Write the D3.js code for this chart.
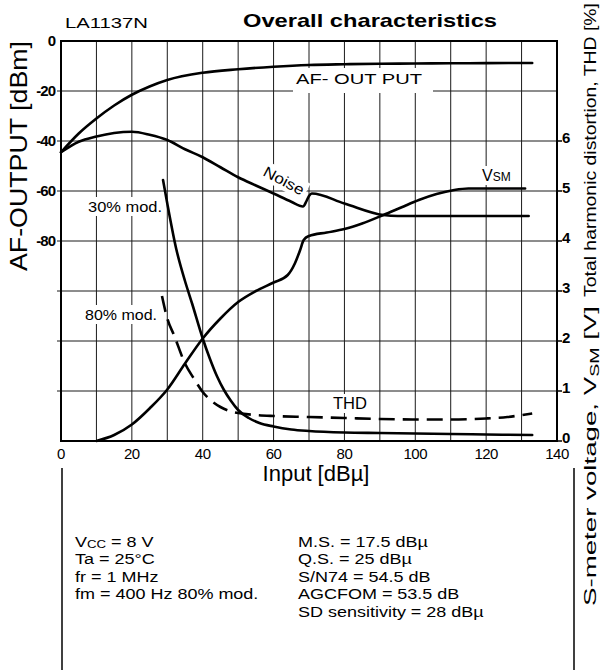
<!DOCTYPE html>
<html lang="en">
	<head>
		<meta charset="utf-8">
		<title>LA1137N Overall characteristics</title>
		<style type="text/css">
			body {
				margin: 0;
				background-color: white;
				font-family: "Liberation Sans", Arial, Helvetica, sans-serif;
			}
			svg {
				display: block;
				background-color: white;
			}
			.grid line {
				stroke: #1a1a1a;
				stroke-width: 1px;
			}
			path.curve {
				fill: none;
				stroke: black;
				stroke-width: 2.6px;
				stroke-linejoin: round;
				stroke-linecap: round;
			}
			path.dashed {
				stroke-dasharray: 16 8;
				stroke-linecap: butt;
			}
			.tick-l, .tick-r {
				font-weight: bold;
				font-size: 15px;
			}
			.tick-x {
				font-size: 15px;
			}
			.note {
				font-size: 15px;
			}
		</style>
	</head>
	<body>
		<script type="text/javascript" src="https://cdnjs.cloudflare.com/ajax/libs/d3/7.8.5/d3.min.js"></script>
		<script type="text/javascript">

			// input [dBu] ticks
			var xTicks = [0, 20, 40, 60, 80, 100, 120, 140];
			var leftTicks = [0, -20, -40, -60, -80];
			var rightTicks = [0, 1, 2, 3, 4, 5, 6];

			// AF-OUTPUT [dBm]
			var afX = [0, 5, 10, 15, 20, 25, 30, 40, 50, 60, 70, 80, 90, 100, 110, 120, 133];
			var afY = [-44.5, -37, -31, -25.8, -21.5, -18.2, -15.6, -12.7, -11.3, -10.3, -9.6, -9.3, -9.1, -9.0, -8.9, -8.85, -8.8];

			// Noise [dBm]
			var noiseX = [0, 5, 10, 15, 20, 25, 30, 35, 40, 45, 50, 55, 60, 65, 68.3, 69.3, 70, 70.8, 80, 91, 95, 110, 132];
			var noiseY = [-44.5, -40.3, -38.2, -36.8, -36.3, -37.5, -39.6, -43.3, -46.5, -50.5, -54.5, -57.8, -61, -64.3, -66.2, -64, -62, -61, -65, -69.6, -70, -70, -70];

			// S-meter voltage VSM [V]
			var vsmX = [10, 15, 20, 25, 30, 35, 40, 45, 50, 55, 60, 64, 66, 67.5, 68.5, 70, 75, 80, 85, 91, 96, 101, 106, 111, 115, 131];
			var vsmY = [0, 0.12, 0.33, 0.65, 1.03, 1.55, 2.05, 2.45, 2.78, 3.0, 3.17, 3.32, 3.55, 3.82, 4.02, 4.1, 4.17, 4.24, 4.35, 4.52, 4.67, 4.82, 4.94, 5.02, 5.05, 5.05];

			// THD [%], 30% mod. (solid)
			var thd30X = [28.8, 30, 32.5, 35, 37, 40, 42, 44, 46, 48, 50, 53, 56, 60, 65, 70, 80, 90, 100, 110, 120, 133];
			var thd30Y = [5.22, 4.75, 3.85, 3.2, 2.75, 2.05, 1.65, 1.3, 1.02, 0.8, 0.62, 0.46, 0.36, 0.29, 0.23, 0.2, 0.17, 0.16, 0.15, 0.14, 0.13, 0.12];

			// THD [%], 80% mod. (dashed)
			var thd80X = [28.5, 30, 32, 35, 37.5, 40, 42.5, 45, 47.5, 50, 55, 60, 70, 80, 90, 100, 110, 120, 126, 133];
			var thd80Y = [2.9, 2.45, 2.1, 1.55, 1.25, 0.98, 0.8, 0.68, 0.6, 0.56, 0.52, 0.5, 0.48, 0.46, 0.44, 0.43, 0.43, 0.45, 0.48, 0.55];

			var notesLeft = ["Ta = 25°C", "fr = 1 MHz", "fm = 400 Hz 80% mod."];
			var notesRight = ["M.S. = 17.5 dBµ", "Q.S. = 25 dBµ", "S/N74 = 54.5 dB", "AGCFOM = 53.5 dB", "SD sensitivity = 28 dBµ"];

			var fullwidth = 601;
			var fullheight = 670;
			var box = { left: 61, right: 557, top: 41, bottom: 441 };

			var xScale = d3.scaleLinear()
				.domain([0, 140])
				.range([box.left, box.right]);

			var yLeft = d3.scaleLinear()
				.domain([-160, 0])
				.range([box.bottom, box.top]);

			var yRight = d3.scaleLinear()
				.domain([0, 8])
				.range([box.bottom, box.top]);

			var svg = d3.select("body")
				.append("svg")
				.attr("width", fullwidth)
				.attr("height", fullheight);

			// grid
			var grid = svg.append("g").attr("class", "grid");

			grid.selectAll("line.v")
				.data(d3.range(10, 140, 10))
				.enter()
				.append("line")
				.attr("class", "v")
				.attr("x1", function(d) { return xScale(d); })
				.attr("x2", function(d) { return xScale(d); })
				.attr("y1", box.top)
				.attr("y2", box.bottom);

			grid.selectAll("line.h")
				.data(d3.range(-140, 0, 20))
				.enter()
				.append("line")
				.attr("class", "h")
				.attr("x1", box.left - 4)
				.attr("x2", box.right)
				.attr("y1", function(d) { return yLeft(d); })
				.attr("y2", function(d) { return yLeft(d); });

			// labels with white background over the grid
			function label(x, y, angle, size, len, parts) {
				var g = svg.append("g")
					.attr("transform", "translate(" + x + "," + y + ") rotate(" + angle + ")");
				var bg = g.append("rect").attr("fill", "white");
				var t = g.append("text")
					.style("font-size", size + "px");
				parts.forEach(function(p) {
					t.append("tspan")
						.text(p.t)
						.attr("dy", p.dy || null)
						.style("font-size", p.s ? p.s + "px" : null);
				});
				if (len) {
					t.attr("textLength", len).attr("lengthAdjust", "spacingAndGlyphs");
				}
				var b = t.node().getBBox();
				bg.attr("x", b.x - 3)
					.attr("y", b.y - 1)
					.attr("width", b.width + 6)
					.attr("height", b.height + 2);
				return g;
			}

			// plot frame
			svg.append("rect")
				.attr("x", box.left)
				.attr("y", box.top)
				.attr("width", box.right - box.left)
				.attr("height", box.bottom - box.top)
				.attr("fill", "none")
				.attr("stroke", "black")
				.attr("stroke-width", 2);

			label(296, 84, 0, 15, 126, [{ t: "AF- OUT PUT" }]).select("rect")
				.attr("x", -3).attr("width", 140).attr("y", -16).attr("height", 25);
			label(88, 212, 0, 15, 74, [{ t: "30% mod." }]);
			label(85, 320, 0, 15, 72, [{ t: "80% mod." }]);
			label(333, 409, 0, 16, 34, [{ t: "THD" }]);
			label(482, 181, 0, 16, null, [{ t: "V" }, { t: "SM", s: 12 }]);
			label(262, 175, 28, 15, 44, [{ t: "Noise" }]);

			function series(xs, ys) {
				return xs.map(function(x, i) { return [x, ys[i]]; });
			}

			var lineLeft = d3.line()
				.x(function(d) { return xScale(d[0]); })
				.y(function(d) { return yLeft(d[1]); })
				.curve(d3.curveMonotoneX);

			var lineRight = d3.line()
				.x(function(d) { return xScale(d[0]); })
				.y(function(d) { return yRight(d[1]); })
				.curve(d3.curveMonotoneX);

			svg.append("path").attr("class", "curve").attr("d", lineLeft(series(afX, afY)));
			svg.append("path").attr("class", "curve").attr("d", lineLeft(series(noiseX, noiseY)));
			svg.append("path").attr("class", "curve").attr("d", lineRight(series(vsmX, vsmY)));
			svg.append("path").attr("class", "curve").attr("d", lineRight(series(thd30X, thd30Y)));
			svg.append("path").attr("class", "curve dashed").attr("d", lineRight(series(thd80X, thd80Y)));

			// left axis
			svg.selectAll("text.tick-l")
				.data(leftTicks)
				.enter()
				.append("text")
				.attr("class", "tick-l")
				.attr("x", 55)
				.attr("y", function(d) { return yLeft(d); })
				.attr("dy", "0.36em")
				.attr("text-anchor", "end")
				.attr("letter-spacing", "-1")
				.text(function(d) { return d; });

			// right axis
			svg.selectAll("line.tick-r")
				.data(rightTicks)
				.enter()
				.append("line")
				.attr("x1", box.right)
				.attr("x2", box.right + 5)
				.attr("y1", function(d) { return yRight(d); })
				.attr("y2", function(d) { return yRight(d); })
				.attr("stroke", "black")
				.attr("stroke-width", 1.5);

			svg.selectAll("text.tick-r")
				.data(rightTicks)
				.enter()
				.append("text")
				.attr("class", "tick-r")
				.attr("x", 562)
				.attr("y", function(d) { return yRight(d); })
				.attr("dy", "0.15em")
				.text(function(d) { return d; });

			// x axis
			svg.selectAll("text.tick-x")
				.data(xTicks)
				.enter()
				.append("text")
				.attr("class", "tick-x")
				.attr("x", function(d) { return xScale(d); })
				.attr("y", 459)
				.attr("text-anchor", "middle")
				.attr("letter-spacing", "-0.5")
				.text(function(d) { return d; });

			svg.append("text")
				.attr("x", 316)
				.attr("y", 481)
				.attr("text-anchor", "middle")
				.style("font-size", "22px")
				.text("Input [dBµ]");

			// axis titles
			svg.append("text")
				.attr("transform", "translate(27,156) rotate(-90)")
				.attr("text-anchor", "middle")
				.attr("textLength", 230)
				.attr("lengthAdjust", "spacingAndGlyphs")
				.style("font-size", "24px")
				.text("AF-OUTPUT [dBm]");

			var rt1 = svg.append("text")
				.attr("transform", "translate(596,606) rotate(-90)")
				.attr("textLength", 300)
				.attr("lengthAdjust", "spacingAndGlyphs")
				.style("font-size", "17px");
			rt1.append("tspan").text("S-meter voltage, V");
			rt1.append("tspan").text("SM").attr("dy", 3).style("font-size", "12px");
			rt1.append("tspan").text(" [V]").attr("dy", -3);

			svg.append("text")
				.attr("transform", "translate(596,297) rotate(-90)")
				.attr("textLength", 294)
				.attr("lengthAdjust", "spacingAndGlyphs")
				.style("font-size", "17px")
				.text("Total harmonic distortion, THD [%]");

			// title
			svg.append("text")
				.attr("x", 65)
				.attr("y", 28)
				.attr("textLength", 83)
				.attr("lengthAdjust", "spacingAndGlyphs")
				.style("font-size", "14px")
				.text("LA1137N");

			svg.append("text")
				.attr("x", 243)
				.attr("y", 27)
				.attr("textLength", 254)
				.attr("lengthAdjust", "spacingAndGlyphs")
				.style("font-size", "19px")
				.style("font-weight", "bold")
				.text("Overall characteristics");

			// lower frame
			[62, 574].forEach(function(x) {
				svg.append("line")
					.attr("x1", x).attr("x2", x)
					.attr("y1", 468).attr("y2", 670)
					.attr("stroke", "black")
					.attr("stroke-width", 1.5);
			});

			// conditions, widened like the original typesetting
			var notes = svg.append("g")
				.attr("transform", "translate(75,0) scale(1.2,1)");

			var vcc = notes.append("text")
				.attr("class", "note")
				.attr("x", 0)
				.attr("y", 547);
			vcc.append("tspan").text("V");
			vcc.append("tspan").text("CC").attr("dy", 1.5).style("font-size", "11px");
			vcc.append("tspan").text(" = 8 V").attr("dy", -1.5);

			notes.selectAll("text.noteL")
				.data(notesLeft)
				.enter()
				.append("text")
				.attr("class", "note noteL")
				.attr("x", 0)
				.attr("y", function(d, i) { return 564.5 + i * 17.5; })
				.text(function(d) { return d; });

			notes.selectAll("text.noteR")
				.data(notesRight)
				.enter()
				.append("text")
				.attr("class", "note noteR")
				.attr("x", (298 - 75) / 1.2)
				.attr("y", function(d, i) { return 547 + i * 17.5; })
				.text(function(d) { return d; });

		</script>
	</body>
</html>
